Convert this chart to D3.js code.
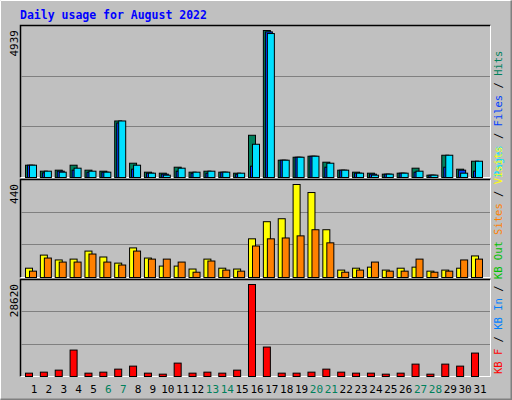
<!DOCTYPE html>
<html>
  <head>
    <script src="https://d3js.org/d3.v7.min.js"></script>
    <style>
      body { margin: 0; }
      text { font-family: "DejaVu Sans Mono", monospace; }
    </style>
  </head>
  <body>
    <svg width="512" height="400"></svg>
    <script>
      const days = d3.range(1, 32);
      const weekend = [6, 7, 13, 14, 20, 21, 27, 28];
      const hits = [413,212,246,413,246,212,1899,480,179,145,346,179,212,179,145,1419,4939,581,681,715,514,246,179,145,112,145,313,78,748,279,547];
      const files = [413,156,212,246,179,179,1832,279,145,112,212,145,145,179,112,380,4892,581,681,715,346,246,145,112,112,145,179,78,346,246,212];
      const pages = [413,212,179,313,212,179,1899,413,145,78,313,179,212,179,145,1117,4837,581,681,715,480,246,145,78,112,145,212,78,748,145,547];
      const visits = [44,106,83,87,125,97,68,140,92,54,54,40,87,44,40,183,264,278,440,402,226,35,44,49,35,44,49,30,35,44,102];
      const sites = [30,92,73,73,111,73,59,125,87,87,73,25,78,35,30,149,183,187,197,226,164,25,35,73,30,30,87,25,30,83,87];
      const kbytes = [1041,1353,1977,8221,1041,1353,2290,3226,1041,728,4163,1041,1353,1041,1977,28620,9158,1041,1041,1353,2290,1353,1041,1041,728,1041,3850,728,3850,3226,7285];

      const svg = d3.select("svg");
      svg.append("rect").attr("width", 512).attr("height", 400).attr("fill", "#c0c0c0");
      // outer 3D border
      svg.append("path").attr("d", "M0.5,399.5V0.5H511.5").attr("fill", "none").attr("stroke", "#fff");
      svg.append("path").attr("d", "M0.5,399.5H511.5V0.5").attr("fill", "none").attr("stroke", "#808080").attr("stroke-width", 2);

      svg.append("text").attr("x", 20).attr("y", 19)
        .attr("font-size", 11.5).attr("font-weight", "bold").attr("fill", "#0000ff")
        .text("Daily usage for August 2022");

      const left = 20, right = 490;
      const x = d3.scaleLinear().domain([1, 31]).range([34, 480]);

      function sideLabel(ybottom, labels) {
        const t = svg.append("text")
          .attr("transform", `translate(502,${ybottom}) rotate(-90)`)
          .attr("font-size", 10.5);
        labels.forEach(l => t.append("tspan").attr("fill", l[1]).text(l[0]));
      }

      function panel(y0, y1, max, series) {
        svg.append("rect").attr("x", left + 0.5).attr("y", y0 + 0.5)
          .attr("width", right - left).attr("height", y1 - y0).attr("fill", "#c0c0c0");
        svg.append("path").attr("d", `M${left + 0.5},${y1 + 0.5}V${y0 + 0.5}H${right + 0.5}`)
          .attr("fill", "none").attr("stroke", "#000").attr("stroke-width", 1.5);
        svg.append("path").attr("d", `M${left + 0.5},${y1 + 0.5}H${right + 0.5}V${y0 + 0.5}`)
          .attr("fill", "none").attr("stroke", "#fff");
        const h = y1 - y0;
        [1, 2].forEach(k => {
          const gy = Math.round(y1 - h * k / 3) + 0.5;
          svg.append("line").attr("x1", left + 1).attr("x2", right).attr("y1", gy).attr("y2", gy)
            .attr("stroke", "#808080");
        });
        const y = d3.scaleLinear().domain([0, max]).range([y1, y0 + 5]);
        series.forEach(s => {
          svg.append("g").selectAll("rect").data(s.data).enter().append("rect")
            .attr("x", (d, i) => x(days[i]) + s.off + 0.5)
            .attr("y", d => y(d) + 0.5)
            .attr("width", s.w)
            .attr("height", d => y1 - y(d))
            .attr("fill", s.color).attr("stroke", "#000");
        });
        svg.append("text")
          .attr("transform", `translate(18,${y0 + 5}) rotate(-90)`)
          .attr("text-anchor", "end").attr("font-size", 11).attr("fill", "#000")
          .text(max);
      }

      panel(25, 177, 4939, [
        { data: hits, color: "#00805c", off: -9, w: 7 },
        { data: files, color: "#0040ff", off: -7, w: 7 },
        { data: pages, color: "#00e0ff", off: -5, w: 7 }
      ]);

      panel(179, 277, 440, [
        { data: visits, color: "#ffff00", off: -9, w: 7 },
        { data: sites, color: "#ff8000", off: -5, w: 7 }
      ]);

      panel(279, 376, 28620, [
        { data: kbytes, color: "#ff0000", off: -9, w: 7 }
      ]);

      sideLabel(177, [["Pages", "#00e0ff"], [" / ", "#000"], ["Files", "#0040ff"], [" / ", "#000"], ["Hits", "#00805c"]]);
      sideLabel(374, [["KB F", "#ff0000"], [" / ", "#000"], ["KB In", "#0080ff"], [" / ", "#000"],
        ["KB Out", "#00c000"], [" ", "#000"], ["Sites", "#ff8000"], [" / ", "#000"], ["Visits", "#ffff00"]]);

      svg.append("g").selectAll("text").data(days).enter().append("text")
        .attr("x", d => x(d)).attr("y", 393).attr("text-anchor", "middle")
        .attr("font-size", 11)
        .attr("fill", d => weekend.includes(d) ? "#00805c" : "#000")
        .text(d => d);
    </script>
  </body>
</html>
